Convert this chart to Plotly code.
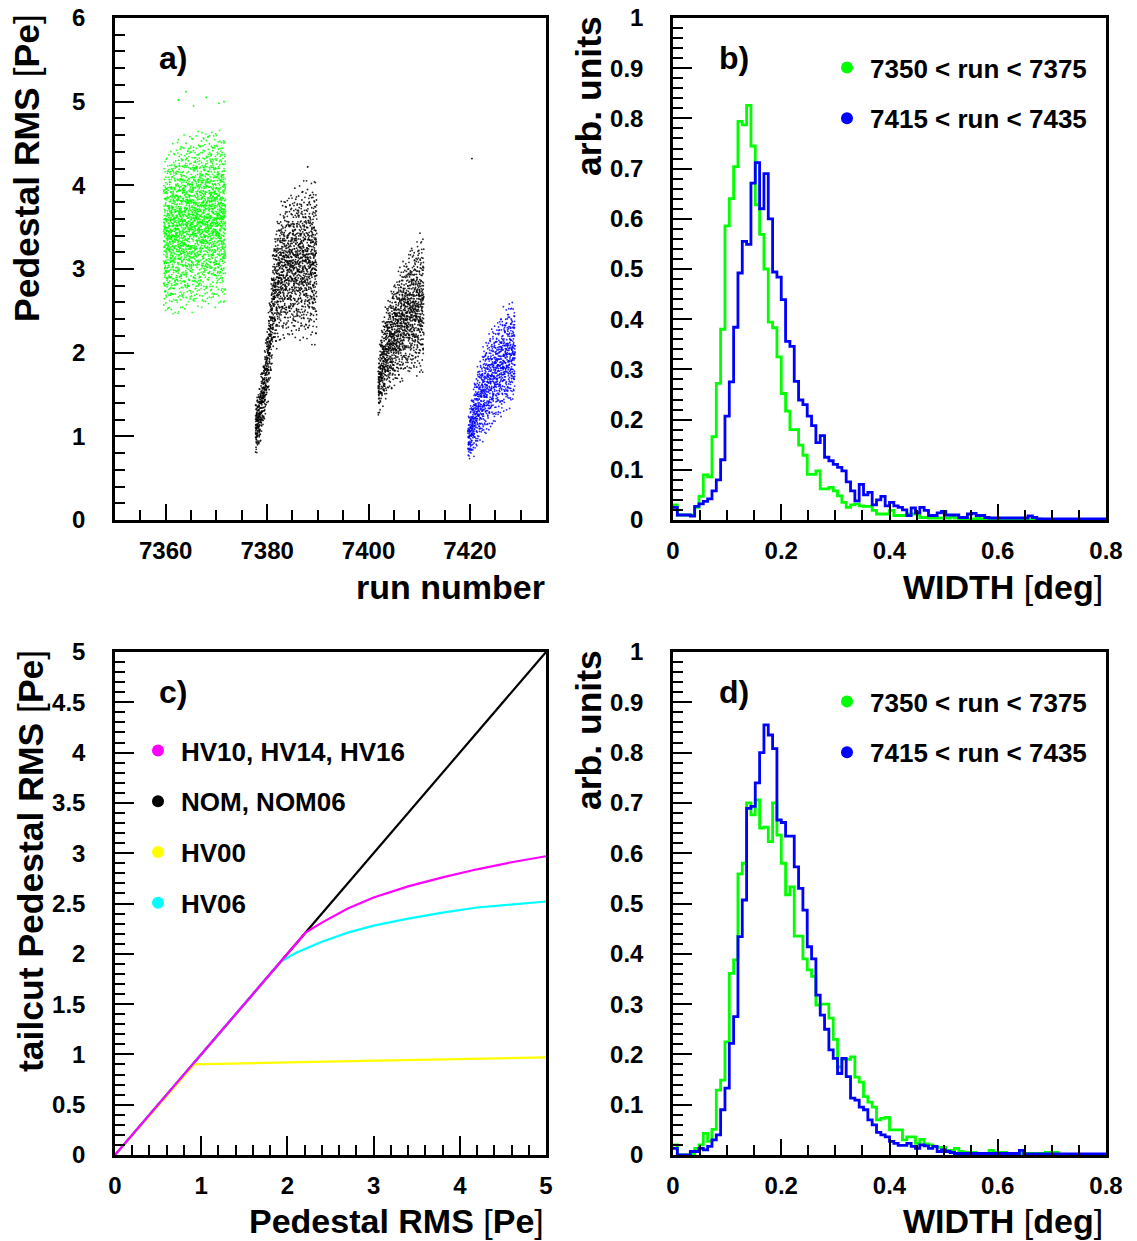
import numpy as np
import plotly.graph_objects as go

W, H = 1137, 1241

# ---------------- Panel a: pedestal RMS vs run number (band envelopes)
green_runs = [7359.6, 7362.0, 7366.0, 7369.0, 7371.8]
green_lo = [2.35, 2.40, 2.45, 2.50, 2.50]
green_hi = [4.40, 4.60, 4.70, 4.75, 4.70]

black1_runs = [7377.7, 7378.5, 7379.5, 7380.5, 7381.3, 7383.0, 7386.0, 7389.8]
black1_lo = [0.72, 0.85, 1.15, 1.50, 1.95, 2.10, 2.10, 2.05]
black1_hi = [1.45, 1.65, 2.05, 2.70, 3.45, 3.90, 4.05, 4.15]

black2_runs = [7401.9, 7402.5, 7404.0, 7406.0, 7408.0, 7410.9]
black2_lo = [1.15, 1.30, 1.45, 1.60, 1.68, 1.68]
black2_hi = [1.95, 2.35, 2.75, 3.05, 3.30, 3.50]

blue_runs = [7419.6, 7420.3, 7421.7, 7423.7, 7426.3, 7428.9]
blue_lo = [0.68, 0.72, 0.82, 1.00, 1.20, 1.35]
blue_hi = [1.20, 1.50, 1.95, 2.30, 2.55, 2.70]

band_counts = [2300, 1800, 1300, 1100]

outlier_x = [7362.5, 7364.0, 7365.5, 7368.0, 7370.5, 7371.5, 7420.4, 7388.0]
outlier_y = [5.02, 5.12, 4.95, 5.05, 4.98, 5.0, 4.32, 4.22]
outlier_c = ["#00ff00"] * 6 + ["#000000", "#000000"]

# ---------------- Panels b, d: WIDTH histograms (bin width 0.008 deg, 0..0.8)
bin_width = 0.008
green_b = [0.03, 0.01, 0.01, 0.01, 0.01, 0.025, 0.047, 0.09, 0.086, 0.166,
           0.272, 0.38, 0.586, 0.64, 0.704, 0.794, 0.787, 0.826, 0.745, 0.628,
           0.569, 0.50, 0.394, 0.383, 0.325, 0.252, 0.217, 0.18, 0.18, 0.149,
           0.129, 0.091, 0.091, 0.098, 0.062, 0.062, 0.065, 0.058, 0.048, 0.035,
           0.025, 0.03, 0.032, 0.028, 0.027, 0.027, 0.019, 0.012, 0.012, 0.012,
           0.019, 0.009, 0.009, 0.009, 0.012, 0.012, 0.012, 0.005, 0.005, 0.004,
           0.004, 0.004, 0.004, 0.004, 0.006, 0.004, 0.002, 0.003, 0.002, 0.002,
           0.003, 0.002, 0.002, 0.001, 0.002, 0.002, 0.001, 0.002, 0.001, 0.001,
           0.002, 0.001, 0.001, 0.001, 0.002, 0.001, 0.001, 0.0, 0.001, 0.001,
           0.0, 0.001, 0.0, 0.0, 0.001, 0.0, 0.0, 0.0, 0.0, 0.0]
blue_b = [0.025, 0.01, 0.01, 0.01, 0.008, 0.027, 0.032, 0.037, 0.042, 0.058,
          0.08, 0.12, 0.207, 0.275, 0.384, 0.492, 0.555, 0.549, 0.671, 0.712,
          0.62, 0.69, 0.60, 0.494, 0.484, 0.439, 0.356, 0.346, 0.276, 0.239,
          0.23, 0.207, 0.188, 0.154, 0.168, 0.125, 0.118, 0.111, 0.105, 0.098,
          0.076, 0.058, 0.038, 0.071, 0.05, 0.055, 0.03, 0.04, 0.047, 0.028,
          0.035, 0.028, 0.025, 0.02, 0.009, 0.024, 0.014, 0.025, 0.019, 0.009,
          0.009, 0.014, 0.017, 0.01, 0.01, 0.01, 0.005, 0.005, 0.012, 0.013,
          0.009, 0.009, 0.005, 0.004, 0.004, 0.004, 0.004, 0.004, 0.004, 0.004,
          0.004, 0.004, 0.008, 0.005, 0.002, 0.002, 0.002, 0.002, 0.002, 0.002,
          0.002, 0.002, 0.002, 0.002, 0.002, 0.002, 0.002, 0.002, 0.002, 0.002]
green_d = [0.02, 0.0, 0.0, 0.0, 0.003, 0.013, 0.02, 0.043, 0.027, 0.051,
           0.129, 0.149, 0.225, 0.361, 0.388, 0.559, 0.58, 0.70, 0.676, 0.706,
           0.65, 0.652, 0.623, 0.70, 0.636, 0.58, 0.517, 0.533, 0.435, 0.435,
           0.39, 0.368, 0.355, 0.298, 0.30, 0.30, 0.272, 0.23, 0.175, 0.19,
           0.19, 0.195, 0.155, 0.145, 0.116, 0.105, 0.095, 0.07, 0.073, 0.075,
           0.05, 0.05, 0.05, 0.03, 0.036, 0.036, 0.023, 0.031, 0.022, 0.02,
           0.017, 0.015, 0.015, 0.009, 0.009, 0.013, 0.007, 0.005, 0.005, 0.005,
           0.003, 0.003, 0.003, 0.009, 0.005, 0.005, 0.005, 0.003, 0.003, 0.003,
           0.003, 0.003, 0.003, 0.003, 0.003, 0.003, 0.005, 0.005, 0.005, 0.001,
           0.001, 0.001, 0.001, 0.001, 0.001, 0.001, 0.001, 0.001, 0.001, 0.001]
blue_d = [0.013, 0.0, 0.0, 0.0, 0.007, 0.007, 0.013, 0.01, 0.017, 0.03,
          0.04, 0.09, 0.133, 0.222, 0.275, 0.434, 0.507, 0.689, 0.693, 0.74,
          0.80, 0.855, 0.835, 0.808, 0.666, 0.661, 0.634, 0.634, 0.573, 0.53,
          0.487, 0.414, 0.39, 0.318, 0.278, 0.25, 0.209, 0.192, 0.162, 0.192,
          0.156, 0.113, 0.109, 0.095, 0.09, 0.07, 0.06, 0.045, 0.04, 0.036,
          0.027, 0.023, 0.019, 0.019, 0.023, 0.017, 0.013, 0.02, 0.018, 0.013,
          0.017, 0.007, 0.01, 0.007, 0.005, 0.003, 0.003, 0.003, 0.003, 0.003,
          0.003, 0.003, 0.003, 0.003, 0.003, 0.003, 0.003, 0.003, 0.003, 0.003,
          0.009, 0.002, 0.002, 0.002, 0.002, 0.002, 0.002, 0.002, 0.002, 0.002,
          0.002, 0.002, 0.002, 0.002, 0.002, 0.002, 0.002, 0.002, 0.002, 0.002]
hist_labels = ["7350 < run < 7375", "7415 < run < 7435"]
hist_colors = ["#00ff00", "#0000ff"]

# ---------------- Panel c: tailcut pedestal RMS vs pedestal RMS
nom_x = [0.0, 5.0]
nom_y = [0.0, 5.0]
hv10_x = [0.0, 2.21, 2.4, 2.7, 3.0, 3.4, 3.8, 4.2, 4.6, 5.0]
hv10_y = [0.0, 2.21, 2.31, 2.45, 2.56, 2.67, 2.76, 2.84, 2.91, 2.97]
hv06_x = [0.0, 1.92, 2.1, 2.4, 2.7, 3.0, 3.4, 3.8, 4.2, 4.6, 5.0]
hv06_y = [0.0, 1.92, 2.01, 2.12, 2.21, 2.28, 2.35, 2.41, 2.46, 2.49, 2.52]
hv00_x = [0.0, 0.92, 2.0, 2.97, 4.0, 5.0]
hv00_y = [0.0, 0.90, 0.92, 0.935, 0.955, 0.97]
c_labels = ["HV10, HV14, HV16", "NOM, NOM06", "HV00", "HV06"]
c_colors = ["#ff00ff", "#000000", "#ffff00", "#00ffff"]

# ------------------------------------------------------------------
FONT = "Liberation Sans"


def halton(n, base, start):
    out = np.empty(n)
    for j in range(n):
        k = j + start
        f, r = 1.0, 0.0
        while k > 0:
            f /= base
            r += f * (k % base)
            k //= base
        out[j] = r
    return out


def band_cloud(runs, lo, hi, n, start):
    u = halton(n, 2, start)
    v = (halton(n, 3, start) + halton(n, 7, start)) / 2.0
    x = runs[0] + u * (runs[-1] - runs[0])
    ylo = np.interp(x, runs, lo)
    yhi = np.interp(x, runs, hi)
    return x, ylo + v * (yhi - ylo)


fig = go.Figure()

bands = [(green_runs, green_lo, green_hi, "#00ff00"),
         (black1_runs, black1_lo, black1_hi, "#000000"),
         (black2_runs, black2_lo, black2_hi, "#000000"),
         (blue_runs, blue_lo, blue_hi, "#0000ff")]
for k, (r, lo, hi, col) in enumerate(bands):
    bx, by = band_cloud(r, lo, hi, band_counts[k], 17 + 5000 * k)
    fig.add_trace(go.Scatter(x=bx, y=by, mode="markers",
                             marker=dict(size=1.8, color=col, opacity=0.85, line=dict(width=0)),
                             showlegend=False, xaxis="x", yaxis="y", hoverinfo="skip"))
fig.add_trace(go.Scatter(x=outlier_x, y=outlier_y, mode="markers",
                         marker=dict(size=1.8, color=outlier_c, line=dict(width=0)),
                         showlegend=False, xaxis="x", yaxis="y"))

edges = np.arange(len(green_b) + 1) * bin_width


def step(vals):
    return list(edges), list(vals) + [vals[-1]]


for vals, col, ax in [(green_b, hist_colors[0], ("x2", "y2")),
                      (blue_b, hist_colors[1], ("x2", "y2")),
                      (green_d, hist_colors[0], ("x4", "y4")),
                      (blue_d, hist_colors[1], ("x4", "y4"))]:
    sx, sy = step(vals)
    fig.add_trace(go.Scatter(x=sx, y=sy, mode="lines", line=dict(color=col, width=2.8, shape="hv"),
                             showlegend=False, xaxis=ax[0], yaxis=ax[1]))

for lx, ly, col in [(nom_x, nom_y, c_colors[1]), (hv00_x, hv00_y, c_colors[2]),
                    (hv06_x, hv06_y, c_colors[3]), (hv10_x, hv10_y, c_colors[0])]:
    fig.add_trace(go.Scatter(x=lx, y=ly, mode="lines", line=dict(color=col, width=2.2),
                             showlegend=False, xaxis="x3", yaxis="y3"))

# legend entries
for lab, col in zip(hist_labels, hist_colors):
    fig.add_trace(go.Scatter(x=[None], y=[None], mode="markers", name=lab,
                             marker=dict(size=12, color=col), legend="legend",
                             legendgroup="b" + lab, xaxis="x2", yaxis="y2"))
    fig.add_trace(go.Scatter(x=[None], y=[None], mode="markers", name=lab,
                             marker=dict(size=12, color=col), legend="legend2",
                             legendgroup="d" + lab, xaxis="x4", yaxis="y4"))
for lab, col in zip(c_labels, c_colors):
    fig.add_trace(go.Scatter(x=[None], y=[None], mode="markers", name=lab,
                             marker=dict(size=12, color=col), legend="legend3",
                             legendgroup="c" + lab, xaxis="x3", yaxis="y3"))


def px_x(p):
    return p / W


def px_y(p):
    return 1 - p / H


left_dom = [px_x(115), px_x(546)]
right_dom = [px_x(673), px_x(1106)]
top_dom = [px_y(520), px_y(18)]
bot_dom = [px_y(1155), px_y(652)]

tickfont = dict(family=FONT, size=24, color="black", weight="bold")


def axis(domain, rng, dtick, minor_dtick, anchor, tick0=None, ticklen=19, is_x=True):
    d = dict(domain=domain, range=rng, dtick=dtick, tick0=tick0 if tick0 is not None else rng[0],
             showline=True, mirror=True, linecolor="black", linewidth=2.5,
             ticks="inside", ticklen=ticklen, tickwidth=2, tickcolor="black",
             minor=dict(ticks="inside", ticklen=10, tickwidth=2, tickcolor="black",
                        dtick=minor_dtick, showgrid=False),
             showgrid=False, zeroline=False, tickfont=tickfont, anchor=anchor,
             ticklabelstandoff=7 if is_x else 22, fixedrange=True, automargin=False)
    return d


fig.update_layout(
    width=W, height=H, margin=dict(l=0, r=0, t=0, b=0, pad=0, autoexpand=False),
    paper_bgcolor="white", plot_bgcolor="white",
    xaxis=axis(left_dom, [7350, 7435], 20, 5, "y", tick0=7360, ticklen=16),
    yaxis=axis(top_dom, [0, 6], 1, 0.2, "x", is_x=False),
    xaxis2=axis(right_dom, [0, 0.8], 0.2, 0.05, "y2", ticklen=16),
    yaxis2=axis(top_dom, [0, 1], 0.1, 0.02, "x2", is_x=False),
    xaxis3=axis(left_dom, [0, 5], 1, 0.2, "y3", ticklen=19),
    yaxis3=axis(bot_dom, [0, 5], 0.5, 0.1, "x3", is_x=False),
    xaxis4=axis(right_dom, [0, 0.8], 0.2, 0.05, "y4", ticklen=16),
    yaxis4=axis(bot_dom, [0, 1], 0.1, 0.02, "x4", is_x=False),
)

leg_common = dict(xanchor="left", yanchor="top", bgcolor="rgba(0,0,0,0)", borderwidth=0,
                  font=dict(family=FONT, size=26, color="black", weight="bold"),
                  tracegroupgap=14, itemclick=False, itemdoubleclick=False, itemwidth=36)
fig.update_layout(
    legend=dict(x=px_x(824), y=px_y(44), **leg_common),
    legend2=dict(x=px_x(824), y=px_y(678), **leg_common),
    legend3=dict(x=px_x(135), y=px_y(727), **leg_common),
)

TITLE = dict(family=FONT, size=34, color="black", weight="bold")
VTITLE = dict(family=FONT, size=35.5, color="black", weight="bold")
N = "<span style='font-weight:normal'>[</span>"
M = "<span style='font-weight:normal'>]</span>"
ann = []


def add_ann(text, x, y, xanchor, yanchor, angle=0, font=TITLE):
    ann.append(dict(text=text, x=px_x(x), y=px_y(y), xref="paper", yref="paper",
                    xanchor=xanchor, yanchor=yanchor, textangle=angle, showarrow=False, font=font))


add_ann("Pedestal RMS " + N + "Pe" + M, 27, 12, "center", "top", -90, VTITLE)
add_ann("run number", 547, 587, "right", "middle")
add_ann("arb. units", 589, 14, "center", "top", -90, VTITLE)
add_ann("WIDTH " + N + "deg" + M, 1105, 587, "right", "middle")
add_ann("tailcut Pedestal RMS " + N + "Pe" + M, 31, 648, "center", "top", -90, VTITLE)
add_ann("Pedestal RMS " + N + "Pe" + M, 546, 1221, "right", "middle")
add_ann("arb. units", 589, 648, "center", "top", -90, VTITLE)
add_ann("WIDTH " + N + "deg" + M, 1105, 1221, "right", "middle")
PL = dict(family=FONT, size=32, color="black", weight="bold")
add_ann("a)", 157, 58, "left", "middle", font=PL)
add_ann("b)", 717, 58, "left", "middle", font=PL)
add_ann("c)", 157, 692, "left", "middle", font=PL)
add_ann("d)", 717, 692, "left", "middle", font=PL)
fig.update_layout(annotations=ann)

fig.write_html("out.html")
